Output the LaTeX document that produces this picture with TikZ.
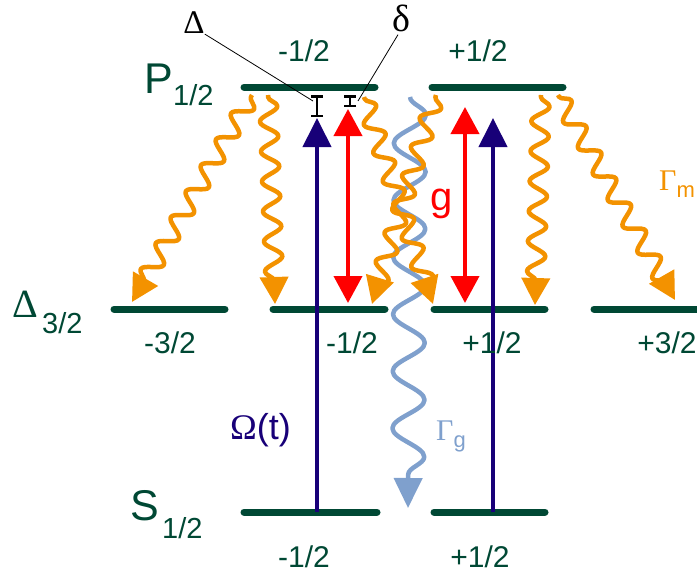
\documentclass[tikz,border=0pt]{standalone}
\usepackage{fontspec}
\setmainfont{Liberation Sans}
\newfontfamily\grk{Liberation Serif}
\usetikzlibrary{arrows.meta,decorations.pathmorphing}
\definecolor{lev}{RGB}{0,72,52}
\definecolor{orng}{RGB}{243,146,0}
\definecolor{navy}{RGB}{24,0,120}
\definecolor{lblue}{RGB}{127,160,205}
\begin{document}
\begin{tikzpicture}[x=1pt,y=-1pt,
  level/.style={line width=7pt, line cap=round, color=lev},
  pump/.style={line width=4pt, color=navy, -{Triangle[length=29pt,width=28pt]}},
  cav/.style={line width=4pt, red, {Triangle[length=27pt,width=28pt]}-{Triangle[length=27pt,width=28pt]}},
  decay/.style={line width=4.5pt, orng, line join=round, decorate,
    decoration={snake, amplitude=9pt, segment length=30pt, pre length=2pt, post length=14pt},
    -{Triangle[length=27pt,width=28pt]}},
  gdecay/.style={line width=4.5pt, lblue, line join=round, decorate,
    decoration={snake, amplitude=16pt, segment length=57pt, post length=14pt},
    -{Triangle[length=30pt,width=28pt]}},
  sub/.style={text=lev, font=\fontsize{30}{32}\selectfont, inner sep=0pt},
  big/.style={text=lev, font=\fontsize{43}{45}\selectfont, inner sep=0pt, anchor=base west},
  bigsub/.style={text=lev, font=\fontsize{29}{31}\selectfont, inner sep=0pt, anchor=base west},
  barm/.style={line width=2.5pt, black, {Bar[width=12pt]}-{Bar[width=12pt]}},
  ptr/.style={line width=0.8pt, black}
]
\useasboundingbox (0,0) rectangle (697,576);
% level end points
\coordinate (PmA) at (244,87); \coordinate (PmB) at (375,87);
\coordinate (PpA) at (432,87); \coordinate (PpB) at (563,87);
\coordinate (D3mA) at (114,309); \coordinate (D3mB) at (225,309);
\coordinate (D1mA) at (273,309); \coordinate (D1mB) at (385,309);
\coordinate (D1pA) at (434,309); \coordinate (D1pB) at (545,309);
\coordinate (D3pA) at (594,309); \coordinate (D3pB) at (700,309);
\coordinate (SmA) at (244,512); \coordinate (SmB) at (377,512);
\coordinate (SpA) at (434,512); \coordinate (SpB) at (545,512);
% levels
\draw[level] (PmA) -- (PmB);
\draw[level] (PpA) -- (PpB);
\draw[level] (D3mA) -- (D3mB);
\draw[level] (D1mA) -- (D1mB);
\draw[level] (D1pA) -- (D1pB);
\draw[level] (D3pA) -- (D3pB);
\draw[level] (SmA) -- (SmB);
\draw[level] (SpA) -- (SpB);
% decay start / end points
\coordinate (w1s) at (252,95); \coordinate (w1e) at (132,302);
\coordinate (w2s) at (268,95); \coordinate (w2e) at (275,304);
\coordinate (w3s) at (364,97); \coordinate (w3e) at (433,304);
\coordinate (w4s) at (436,95); \coordinate (w4e) at (372,304);
\coordinate (w5s) at (541,95); \coordinate (w5e) at (535,305);
\coordinate (w6s) at (558,95); \coordinate (w6e) at (675,300);
\coordinate (gs) at (410,97); \coordinate (ge) at (408,508);
% blue spontaneous decay
\draw[gdecay] (gs) -- (ge);
% orange decays
\draw[decay] (w1s) -- (w1e);
\draw[decay] (w2s) -- (w2e);
\draw[decay] (w3s) -- (w3e);
\draw[decay] (w4s) -- (w4e);
\draw[decay] (w5s) -- (w5e);
\draw[decay] (w6s) -- (w6e);
% pump arrows
\coordinate (b1s) at (317,512); \coordinate (b1e) at (317,118);
\coordinate (b2s) at (493,512); \coordinate (b2e) at (493,118);
\draw[pump] (b1s) -- (b1e);
\draw[pump] (b2s) -- (b2e);
% cavity arrows
\coordinate (r1s) at (348,109); \coordinate (r1e) at (348,303);
\coordinate (r2s) at (465,107); \coordinate (r2e) at (465,303);
\draw[cav] (r1s) -- (r1e);
\draw[cav] (r2s) -- (r2e);
% detuning markers
\coordinate (m1s) at (317,95); \coordinate (m1e) at (317,117);
\coordinate (m2s) at (350,95); \coordinate (m2e) at (350,107);
\draw[barm] (m1s) -- (m1e);
\draw[barm] (m2s) -- (m2e);
% labels
\node[sub] (lPm) at (304,51) {-1/2};
\node[sub] (lPp) at (478,51) {+1/2};
\node[sub] (lD3m) at (170,343) {-3/2};
\node[sub] (lD1m) at (352,343) {-1/2};
\node[sub] (lD1p) at (492,343) {+1/2};
\node[sub] (lD3p) at (667,343) {+3/2};
\node[sub] (lSm) at (304,557) {-1/2};
\node[sub] (lSp) at (480,557) {+1/2};
\node[big] (Pl) at (144,93) {P};
\node[bigsub] (Pls) at (173,105) {1/2};
\node[big, font=\grk\fontsize{40}{42}\selectfont] (Dl) at (12,317) {Δ};
\node[bigsub] (Dls) at (42,333) {3/2};
\node[big] (Sl) at (130,520) {S};
\node[bigsub] (Sls) at (162,538) {1/2};
\node[inner sep=0pt, font=\grk\fontsize{33}{35}\selectfont] (Delta) at (194,23) {Δ};
\node[inner sep=0pt, font=\grk\fontsize{38}{40}\selectfont] (delta) at (401,18) {δ};
\draw[ptr] (Delta.south east) -- (313,101);
\draw[ptr] (delta.south) ++(-3,3) coordinate (dp) (dp) -- (358,101);
\node[inner sep=0pt, anchor=base west, text=red, font=\fontsize{40}{42}\selectfont] (gl) at (430,210) {g};
\node[inner sep=0pt, anchor=base west, text=orng, font=\grk\fontsize{30}{32}\selectfont] (Gm) at (659,190) {Γ\raisebox{-7pt}{\fontsize{22}{24}\selectfont\rmfamily m}};
\node[inner sep=0pt, anchor=base west, text=lblue, font=\grk\fontsize{30}{32}\selectfont] (Gg) at (436,440) {Γ\raisebox{-7pt}{\fontsize{22}{24}\selectfont\rmfamily g}};
\node[inner sep=0pt, anchor=west, text=navy, font=\fontsize{36}{38}\selectfont] (Om) at (230,430) {{\grk Ω}(t)};
\end{tikzpicture}
\end{document}
